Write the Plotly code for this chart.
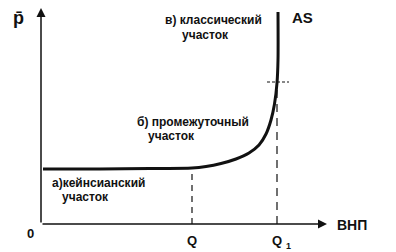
import plotly.graph_objects as go

# AS curve (output, price level) in chart units
curve_q = [0.2, 5.9, 10.9, 15.1, 16.5, 18.0, 19.5, 20.8, 21.8, 22.5, 23.0, 23.35, 23.6, 23.7, 23.7]
curve_p = [5.5, 5.5, 5.55, 5.6, 5.75, 6.05, 6.5, 7.1, 7.9, 9.0, 10.4, 12.0, 14.1, 16.4, 21.2]

q_level = 15.1
q1_level = 23.6
p_at_q = 5.6
p_mark = 14.2
x_axis_end = 28.6
y_axis_end = 21.6

labels = [
    ("в) классический", 12.2, 20.4),
    ("участок", 13.9, 18.9),
    ("б) промежуточный", 9.4, 10.2),
    ("участок", 10.5, 8.8),
    ("а)кейнсианский", 0.9, 4.1),
    ("участок", 1.9, 2.7),
]

BLACK = "#111111"
FONT = "Liberation Sans"

fig = go.Figure()

# dashed guides
fig.add_trace(go.Scatter(x=[q_level, q_level], y=[0, p_at_q], mode="lines",
                         line=dict(color=BLACK, width=1.2, dash="6px,5px"), hoverinfo="skip"))
fig.add_trace(go.Scatter(x=[q1_level, q1_level], y=[0, p_mark], mode="lines",
                         line=dict(color=BLACK, width=1.2, dash="8px,6px"), hoverinfo="skip"))
fig.add_trace(go.Scatter(x=[q1_level - 1.0, q1_level + 1.2], y=[p_mark, p_mark], mode="lines",
                         line=dict(color=BLACK, width=1, dash="3px,2px"), hoverinfo="skip"))

# AS curve
fig.add_trace(go.Scatter(x=curve_q, y=curve_p, mode="lines",
                         line=dict(color=BLACK, width=3, shape="spline", smoothing=0.8),
                         hoverinfo="skip"))

ann = []
# axes with arrows
ann.append(dict(x=0, y=y_axis_end, ax=0, ay=0, xref="x", yref="y", axref="x", ayref="y",
                showarrow=True, arrowhead=2, arrowsize=1.2, arrowwidth=1.5, arrowcolor=BLACK, text=""))
ann.append(dict(x=x_axis_end, y=0, ax=0, ay=0, xref="x", yref="y", axref="x", ayref="y",
                showarrow=True, arrowhead=2, arrowsize=1.2, arrowwidth=1.5, arrowcolor=BLACK, text=""))

for t, x, y in labels:
    ann.append(dict(x=x, y=y, text="<b>%s</b>" % t, showarrow=False, xanchor="left", yanchor="middle",
                    font=dict(family=FONT, size=12, color=BLACK)))

ann.append(dict(x=24.9, y=20.7, text="<b>AS</b>", showarrow=False, xanchor="left",
                font=dict(family=FONT, size=15, color=BLACK)))
ann.append(dict(x=-2.3, y=20.6, text="<b>p\u0304</b>", showarrow=False,
                font=dict(family=FONT, size=18, color=BLACK)))
ann.append(dict(x=-1.1, y=-0.9, text="<b>0</b>", showarrow=False,
                font=dict(family=FONT, size=13, color=BLACK)))
ann.append(dict(x=q_level, y=-1.6, text="<b>Q</b>", showarrow=False,
                font=dict(family=FONT, size=13, color=BLACK)))
ann.append(dict(x=q1_level, y=-1.6, text="<b>Q</b>", showarrow=False,
                font=dict(family=FONT, size=13, color=BLACK)))
ann.append(dict(x=q1_level + 1.1, y=-2.2, text="<b>1</b>", showarrow=False,
                font=dict(family=FONT, size=9, color=BLACK)))
ann.append(dict(x=29.4, y=-0.1, text="<b>ВНП</b>", showarrow=False, xanchor="left",
                font=dict(family=FONT, size=14, color=BLACK)))

fig.update_layout(
    width=396, height=252,
    margin=dict(l=0, r=0, t=0, b=0),
    paper_bgcolor="white", plot_bgcolor="white",
    showlegend=False,
    annotations=ann,
    xaxis=dict(range=[-4.1, 35.5], visible=False, fixedrange=True),
    yaxis=dict(range=[-2.8, 22.4], visible=False, fixedrange=True),
)

fig.write_html("out.html")
